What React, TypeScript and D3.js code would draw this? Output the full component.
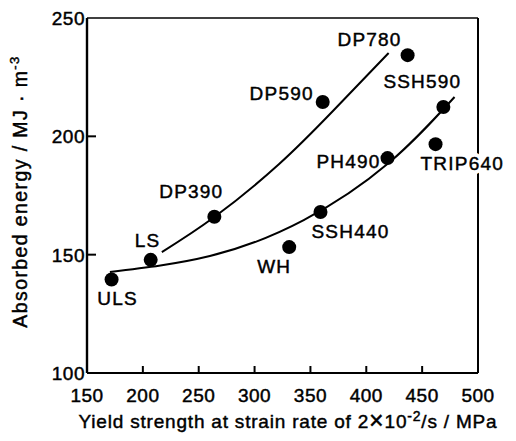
import React from "react";
import * as d3 from "d3";

const names = ["ULS", "LS", "DP390", "WH", "SSH440", "DP590", "PH490", "DP780", "TRIP640", "SSH590"];
const yieldStrength = [172, 207, 264, 331, 359, 361, 419, 437, 462, 469];
const absorbedEnergy = [139.5, 147.8, 166, 153.2, 168, 214.5, 190.8, 234.3, 196.7, 212.4];

// label placement (pixel offsets from the point) – styling only
const labelStyle: Record<string, { dx: number; dy: number; anchor: string; halo?: boolean }> = {
  ULS: { dx: 6, dy: 25, anchor: "middle" },
  LS: { dx: -3, dy: -13, anchor: "middle" },
  DP390: { dx: -23, dy: -19, anchor: "middle" },
  WH: { dx: -15, dy: 26, anchor: "middle" },
  SSH440: { dx: -9, dy: 26, anchor: "start" },
  DP590: { dx: -9, dy: -2, anchor: "end" },
  PH490: { dx: -7, dy: 10, anchor: "end" },
  DP780: { dx: -6, dy: -9, anchor: "end" },
  TRIP640: { dx: -15, dy: 26, anchor: "start", halo: true },
  SSH590: { dx: -21, dy: -19, anchor: "middle" },
};

// trend curves
const dpCurveX = [217, 264, 322, 371, 420];
const dpCurveY = [151.1, 165.9, 188.3, 211.1, 235.2];
const sshCurveX = [170.5, 260, 344, 420, 479];
const sshCurveY = [142.7, 149.4, 164.6, 188.7, 216.6];

const xTicks = [150, 200, 250, 300, 350, 400, 450, 500];
const yTicks = [100, 150, 200, 250];

const W = 516;
const H = 441;
const left = 87;
const right = 478;
const top = 18;
const bottom = 373;

export default function App() {
  const x = d3.scaleLinear().domain([150, 500]).range([left, right]);
  const y = d3.scaleLinear().domain([100, 250]).range([bottom, top]);
  const line = d3
    .line<[number, number]>()
    .x((d) => x(d[0]))
    .y((d) => y(d[1]))
    .curve(d3.curveNatural);
  const dpPath = line(dpCurveX.map((v, i) => [v, dpCurveY[i]] as [number, number])) || "";
  const sshPath = line(sshCurveX.map((v, i) => [v, sshCurveY[i]] as [number, number])) || "";
  const font = "'Liberation Sans', Arial, Helvetica, sans-serif";
  const ts = { stroke: "#000", strokeWidth: 0.45 };

  return (
    <svg
      width={W}
      height={H}
      viewBox={`0 0 ${W} ${H}`}
      style={{ position: "absolute", left: 0, top: 0, background: "#fff" }}
      fontFamily={font}
    >
      <rect x={0} y={0} width={W} height={H} fill="#fff" />
      {/* frame */}
      <line x1={left} x2={right} y1={top} y2={top} stroke="#000" strokeWidth={1.6} />
      <line x1={right} x2={right} y1={top} y2={bottom} stroke="#000" strokeWidth={2} />
      <line x1={left} x2={left} y1={top} y2={bottom} stroke="#000" strokeWidth={2.4} />
      <line x1={left} x2={right} y1={bottom} y2={bottom} stroke="#000" strokeWidth={2.2} />
      {/* x ticks */}
      {xTicks.map((t) => (
        <g key={"xt" + t}>
          {t > 150 && t < 500 && (
            <line x1={x(t)} x2={x(t)} y1={bottom} y2={bottom - 7} stroke="#000" strokeWidth={2} />
          )}
          <text x={x(t)} y={402} textAnchor="middle" fontSize={19} letterSpacing={0.5} fill="#000" {...ts}>
            {t}
          </text>
        </g>
      ))}
      {/* y ticks */}
      {yTicks.map((t) => (
        <g key={"yt" + t}>
          {t > 100 && t < 250 && (
            <line x1={left} x2={left + 9} y1={y(t)} y2={y(t)} stroke="#000" strokeWidth={2} />
          )}
          <text x={85} y={y(t)} dy="0.36em" textAnchor="end" fontSize={19} letterSpacing={0.5} fill="#000" {...ts}>
            {t}
          </text>
        </g>
      ))}
      {/* curves */}
      <path d={dpPath} fill="none" stroke="#000" strokeWidth={2} />
      <path d={sshPath} fill="none" stroke="#000" strokeWidth={2} />
      {/* points */}
      {names.map((n, i) => (
        <circle key={"p" + n} cx={x(yieldStrength[i])} cy={y(absorbedEnergy[i])} r={7} fill="#000" />
      ))}
      {/* labels */}
      {names.map((n, i) => {
        const s = labelStyle[n];
        return (
          <g key={"l" + n}>
            {s.halo && (
              <text
                x={x(yieldStrength[i]) + s.dx}
                y={y(absorbedEnergy[i]) + s.dy}
                textAnchor={s.anchor as any}
                fontSize={19}
                letterSpacing={1.2}
                fill="#fff"
                stroke="#fff"
                strokeWidth={8}
              >
                {n}
              </text>
            )}
            <text
              x={x(yieldStrength[i]) + s.dx}
              y={y(absorbedEnergy[i]) + s.dy}
              textAnchor={s.anchor as any}
              fontSize={19}
              letterSpacing={1.2}
              fill="#000"
              {...ts}
            >
              {n}
            </text>
          </g>
        );
      })}
      {/* axis titles */}
      <text x={288} y={428} textAnchor="middle" fontSize={19} letterSpacing={0.8} fill="#000" {...ts}>
        Yield strength at strain rate of 2
        <tspan fontSize={25} dy={1}>×</tspan>
        <tspan dy={-1}>10</tspan>
        <tspan fontSize={14} dy={-7}>-2</tspan>
        <tspan dy={7}>/s / MPa</tspan>
      </text>
      <text
        transform={`translate(27,${(top + bottom) / 2 - 4}) rotate(-90)`}
        textAnchor="middle"
        fontSize={19.5}
        letterSpacing={1.4}
        fill="#000"
        {...ts}
      >
        Absorbed energy / MJ · m
        <tspan fontSize={13} dy={-8}>-3</tspan>
      </text>
    </svg>
  );
}
